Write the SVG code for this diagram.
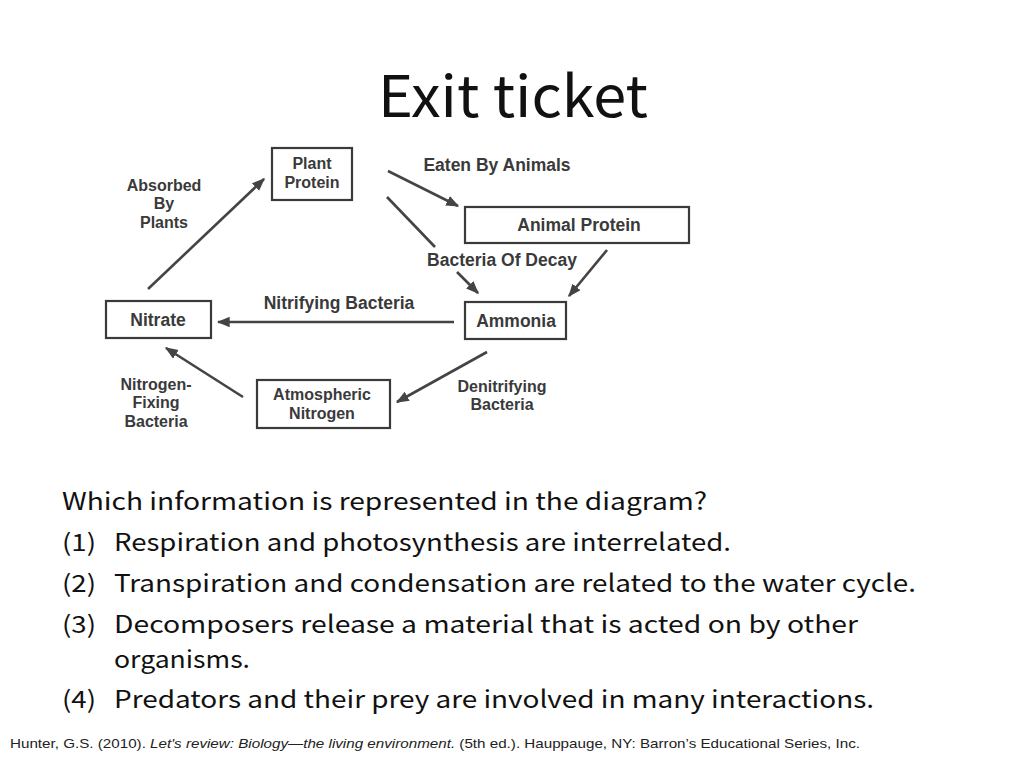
<svg xmlns="http://www.w3.org/2000/svg" width="1024" height="768" viewBox="0 0 1024 768">
<defs>
<marker id="ah" viewBox="0 0 10 10" refX="9" refY="5" markerWidth="5" markerHeight="5" orient="auto" markerUnits="strokeWidth">
<path d="M0,1 L10,5 L0,9 Z" fill="#444"/>
</marker>
<style>
.box{fill:#fff;stroke:#3a3a3a;stroke-width:2.2}
.lbl{font-family:"Liberation Sans",Arial,sans-serif;font-size:17.5px;font-weight:bold;fill:#3a3a3a;text-anchor:middle}
.ml{font-size:16px}
.ln{stroke:#444;stroke-width:2.6;fill:none}
.arr{stroke:#444;stroke-width:2.6;fill:none;marker-end:url(#ah)}
.body{font-family:"Noto Sans CJK KR","Noto Sans",sans-serif;font-size:24px;fill:#111}
</style>
</defs>
<rect width="1024" height="768" fill="#fff"/>
<text x="378" y="117" textLength="270" lengthAdjust="spacingAndGlyphs" font-family="Noto Sans CJK KR, Noto Sans, sans-serif" font-size="57" fill="#111">Exit ticket</text>

<g id="connectors">
<line class="arr" x1="148" y1="289" x2="264" y2="179"/>
<line class="arr" x1="388" y1="171" x2="458" y2="206"/>
<line class="ln" x1="387" y1="197" x2="435" y2="247"/>
<line class="arr" x1="457" y1="272" x2="478" y2="293"/>
<line class="arr" x1="607" y1="250" x2="569" y2="296"/>
<line class="arr" x1="454" y1="322" x2="218" y2="322"/>
<line class="arr" x1="487" y1="352" x2="397" y2="402"/>
<line class="arr" x1="243" y1="397" x2="166" y2="348"/>
</g>

<g id="plant-protein">
<rect class="box" x="272" y="148" width="80" height="52"/>
<text class="lbl ml" x="312" y="169">Plant</text>
<text class="lbl ml" x="312" y="187.5">Protein</text>
</g>
<g id="animal-protein">
<rect class="box" x="465" y="207" width="224" height="36"/>
<text class="lbl" x="579" y="231">Animal Protein</text>
</g>
<g id="ammonia">
<rect class="box" x="465" y="302" width="101" height="37"/>
<text class="lbl" x="516" y="327">Ammonia</text>
</g>
<g id="nitrate">
<rect class="box" x="106" y="301" width="105" height="37"/>
<text class="lbl" x="158" y="326">Nitrate</text>
</g>
<g id="atmospheric-nitrogen">
<rect class="box" x="257" y="380" width="133" height="48"/>
<text class="lbl ml" x="322" y="400">Atmospheric</text>
<text class="lbl ml" x="322" y="418.5">Nitrogen</text>
</g>

<g id="labels">
<text class="lbl ml" x="164" y="190.5">Absorbed</text>
<text class="lbl ml" x="164" y="209">By</text>
<text class="lbl ml" x="164" y="227.5">Plants</text>
<text class="lbl" x="497" y="171">Eaten By Animals</text>
<text class="lbl" x="502" y="266">Bacteria Of Decay</text>
<text class="lbl" x="339" y="309">Nitrifying Bacteria</text>
<text class="lbl ml" x="156" y="389.5">Nitrogen-</text>
<text class="lbl ml" x="156" y="408">Fixing</text>
<text class="lbl ml" x="156" y="426.5">Bacteria</text>
<text class="lbl ml" x="502" y="391.5">Denitrifying</text>
<text class="lbl ml" x="502" y="410">Bacteria</text>
</g>

<g id="question">
<text class="body" x="62" y="510" textLength="645" lengthAdjust="spacingAndGlyphs">Which information is represented in the diagram?</text>
<text class="body" x="62" y="551" textLength="34" lengthAdjust="spacingAndGlyphs">(1)</text>
<text class="body" x="114" y="551" textLength="617" lengthAdjust="spacingAndGlyphs">Respiration and photosynthesis are interrelated.</text>
<text class="body" x="62" y="592" textLength="34" lengthAdjust="spacingAndGlyphs">(2)</text>
<text class="body" x="114" y="592" textLength="802" lengthAdjust="spacingAndGlyphs">Transpiration and condensation are related to the water cycle.</text>
<text class="body" x="62" y="633" textLength="34" lengthAdjust="spacingAndGlyphs">(3)</text>
<text class="body" x="114" y="633" textLength="744" lengthAdjust="spacingAndGlyphs">Decomposers release a material that is acted on by other</text>
<text class="body" x="114" y="668" textLength="136" lengthAdjust="spacingAndGlyphs">organisms.</text>
<text class="body" x="62" y="708" textLength="34" lengthAdjust="spacingAndGlyphs">(4)</text>
<text class="body" x="114" y="708" textLength="760" lengthAdjust="spacingAndGlyphs">Predators and their prey are involved in many interactions.</text>
</g>

<text x="10" y="748" textLength="850" lengthAdjust="spacingAndGlyphs" font-family="Liberation Sans, sans-serif" font-size="13" fill="#222">Hunter, G.S. (2010).  <tspan font-style="italic">Let's review: Biology—the living environment.</tspan> (5th ed.). Hauppauge, NY: Barron’s Educational Series, Inc.</text>
</svg>
